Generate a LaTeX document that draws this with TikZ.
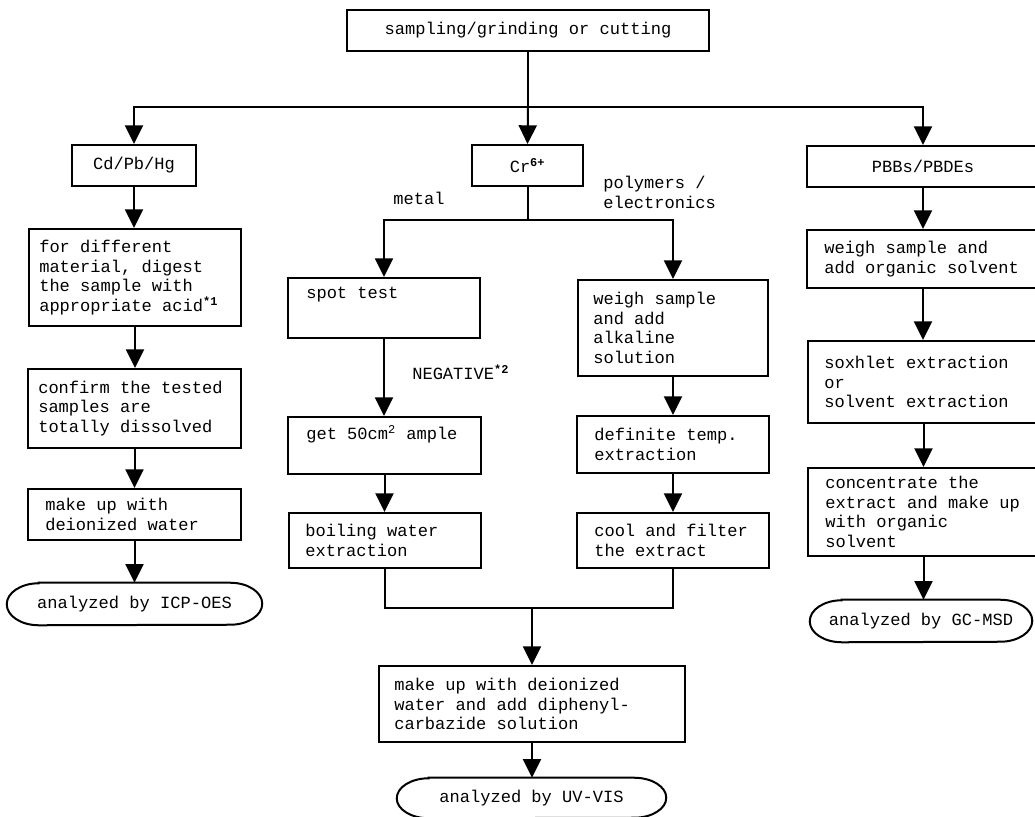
\documentclass[tikz,border=0pt]{standalone}
\usepackage{fontspec}
\setmainfont{Liberation Mono}
\usetikzlibrary{arrows.meta}
\newcommand\fs{\fontsize{12.8pt}{14.6pt}\selectfont}
\newcommand\bx[6]{\node[box, minimum width={(#4-#2)*0.75pt}, minimum height={(#5-#3)*0.75pt}] (#1) at ({(#2+#4)/2},{(#3+#5)/2}) {#6};}
\newcommand\term[6]{%
  \node[txt, align=center, minimum width={(#4-#2)*0.75pt}, minimum height={(#5-#3)*0.75pt}] (#1) at ({(#2+#4)/2},{(#3+#5)/2}) {#6};
  \draw[ln] ([xshift=24pt]#1.north west) -- ([xshift=-24pt]#1.north east)
    arc[start angle=90,end angle=-90,x radius=24pt,y radius={(#5-#3)*0.375pt}]
    -- ([xshift=24pt]#1.south west)
    arc[start angle=270,end angle=90,x radius=24pt,y radius={(#5-#3)*0.375pt}] -- cycle;}
\begin{document}
\begin{tikzpicture}[x=0.75pt,y=-0.75pt,
  box/.style={draw, line width=1.5pt, inner sep=0pt, font=\fs},
  txt/.style={inner sep=0pt, align=left, font=\fs},
  ln/.style={line width=1.5pt},
  arr/.style={line width=1.5pt, -{Triangle[width=13.5pt,length=14pt]}},
]
\fill[white] (0,0) rectangle (1035,817);
\useasboundingbox (0,0) rectangle (1035,817);

% boxes
\bx{top}{347}{10}{709}{51}{sampling/grinding or cutting}
\bx{cd}{72}{145}{196}{186}{Cd/Pb/Hg}
\bx{cr}{472}{145}{583}{186}{Cr\textsuperscript{\bfseries 6+}}
\bx{pbb}{807}{146}{1039}{187}{PBBs/PBDEs}

\bx{dig}{29}{229}{241}{326}{}
\bx{conf}{28}{369}{241}{448}{}
\bx{mkw}{28}{489}{241}{540}{}
\term{icp}{7}{583}{262}{625}{analyzed by ICP-OES}

\bx{spot}{288}{278}{480}{338}{}
\bx{get}{288}{417}{481}{474}{}
\bx{boil}{289}{513}{481}{568}{}

\bx{alk}{578}{280}{768}{376}{}
\bx{def}{577}{416}{769}{473}{}
\bx{cool}{577}{513}{769}{568}{}

\bx{org}{807}{230}{1039}{288}{}
\bx{sox}{808}{341}{1039}{423}{}
\bx{conc}{808}{468}{1039}{556}{}
\term{gc}{810}{600}{1032}{642}{analyzed by GC-MSD}

\bx{mk}{379}{666}{685}{742}{}
\term{uv}{397}{778}{666}{818}{analyzed by UV-VIS}

% box texts
\node[txt, anchor=west] (tdig) at ([xshift=8.25pt]dig.west) {for different\\material, digest\\the sample with\\appropriate acid\textsuperscript{\bfseries *1}};
\node[txt, anchor=west] (tconf) at ([xshift=8.25pt]conf.west) {confirm the tested\\samples are\\totally dissolved};
\node[txt, anchor=west] (tmkw) at ([xshift=13.5pt]mkw.west) {make up with\\deionized water};
\node[txt, anchor=west] (tspot) at (306,295) {spot test};
\node[txt, anchor=west] (tget) at (306,434) {get 50cm\textsuperscript{2} ample};
\node[txt, anchor=west] (tboil) at ([xshift=12.75pt]boil.west) {boiling water\\extraction};
\node[txt, anchor=west] (talk) at ([xshift=12pt]alk.west) {weigh sample\\and add\\alkaline\\solution};
\node[txt, anchor=west] (tdef) at ([xshift=13.5pt]def.west) {definite temp.\\extraction};
\node[txt, anchor=west] (tcool) at ([xshift=13.5pt]cool.west) {cool and filter\\the extract};
\node[txt, anchor=west] (torg) at ([xshift=13.5pt]org.west) {weigh sample and\\add organic solvent};
\node[txt, anchor=west] (tsox) at ([xshift=12.75pt]sox.west) {soxhlet extraction\\or\\solvent extraction};
\node[txt, anchor=west] (tconc) at ([xshift=13.5pt]conc.west) {concentrate the\\extract and make up\\with organic\\solvent};
\node[txt, anchor=west] (tmk) at ([xshift=12pt]mk.west) {make up with deionized\\water and add diphenyl-\\carbazide solution};

% labels
\node[txt] (lmetal) at (419,198) {metal};
\node[txt, anchor=west] (lpoly) at (603,192.5) {polymers /\\electronics};
\node[txt, anchor=west] (lneg) at (412,372) {NEGATIVE\textsuperscript{\bfseries *2}};

% connectors
\coordinate (bus) at (528,107);
\draw[ln] (top.south) -- (bus);
\draw[arr] (bus) -| (cd.north);
\draw[arr] (bus) -| (pbb.north);
\draw[arr] (bus) -- (cr.north);

\draw[arr] (cd.south) -- (cd.south |- dig.north);
\draw[arr] (dig.south) -- (dig.south |- conf.north);
\draw[arr] (conf.south) -- (conf.south |- mkw.north);
\draw[arr] (mkw.south) -- (mkw.south |- icp.north);

\coordinate (crj) at (527.5,220);
\draw[ln] (cr.south) -- (crj);
\draw[arr] (crj) -| (spot.north);
\draw[arr] (crj) -| (alk.north);

\draw[arr] (spot.south) -- (spot.south |- get.north);
\draw[arr] (get.south) -- (get.south |- boil.north);
\draw[arr] (alk.south) -- (alk.south |- def.north);
\draw[arr] (def.south) -- (def.south |- cool.north);

\coordinate (mj) at (532,608);
\draw[ln] (boil.south) |- (mj) -| (cool.south);
\draw[arr] (mj) -- (mk.north);
\draw[arr] (mk.south) -- (mk.south |- uv.north);

\draw[arr] (pbb.south) -- (pbb.south |- org.north);
\draw[arr] (org.south) -- (org.south |- sox.north);
\draw[arr] (sox.south) -- (sox.south |- conc.north);
\draw[arr] (conc.south) -- (conc.south |- gc.north);
\end{tikzpicture}
\end{document}
